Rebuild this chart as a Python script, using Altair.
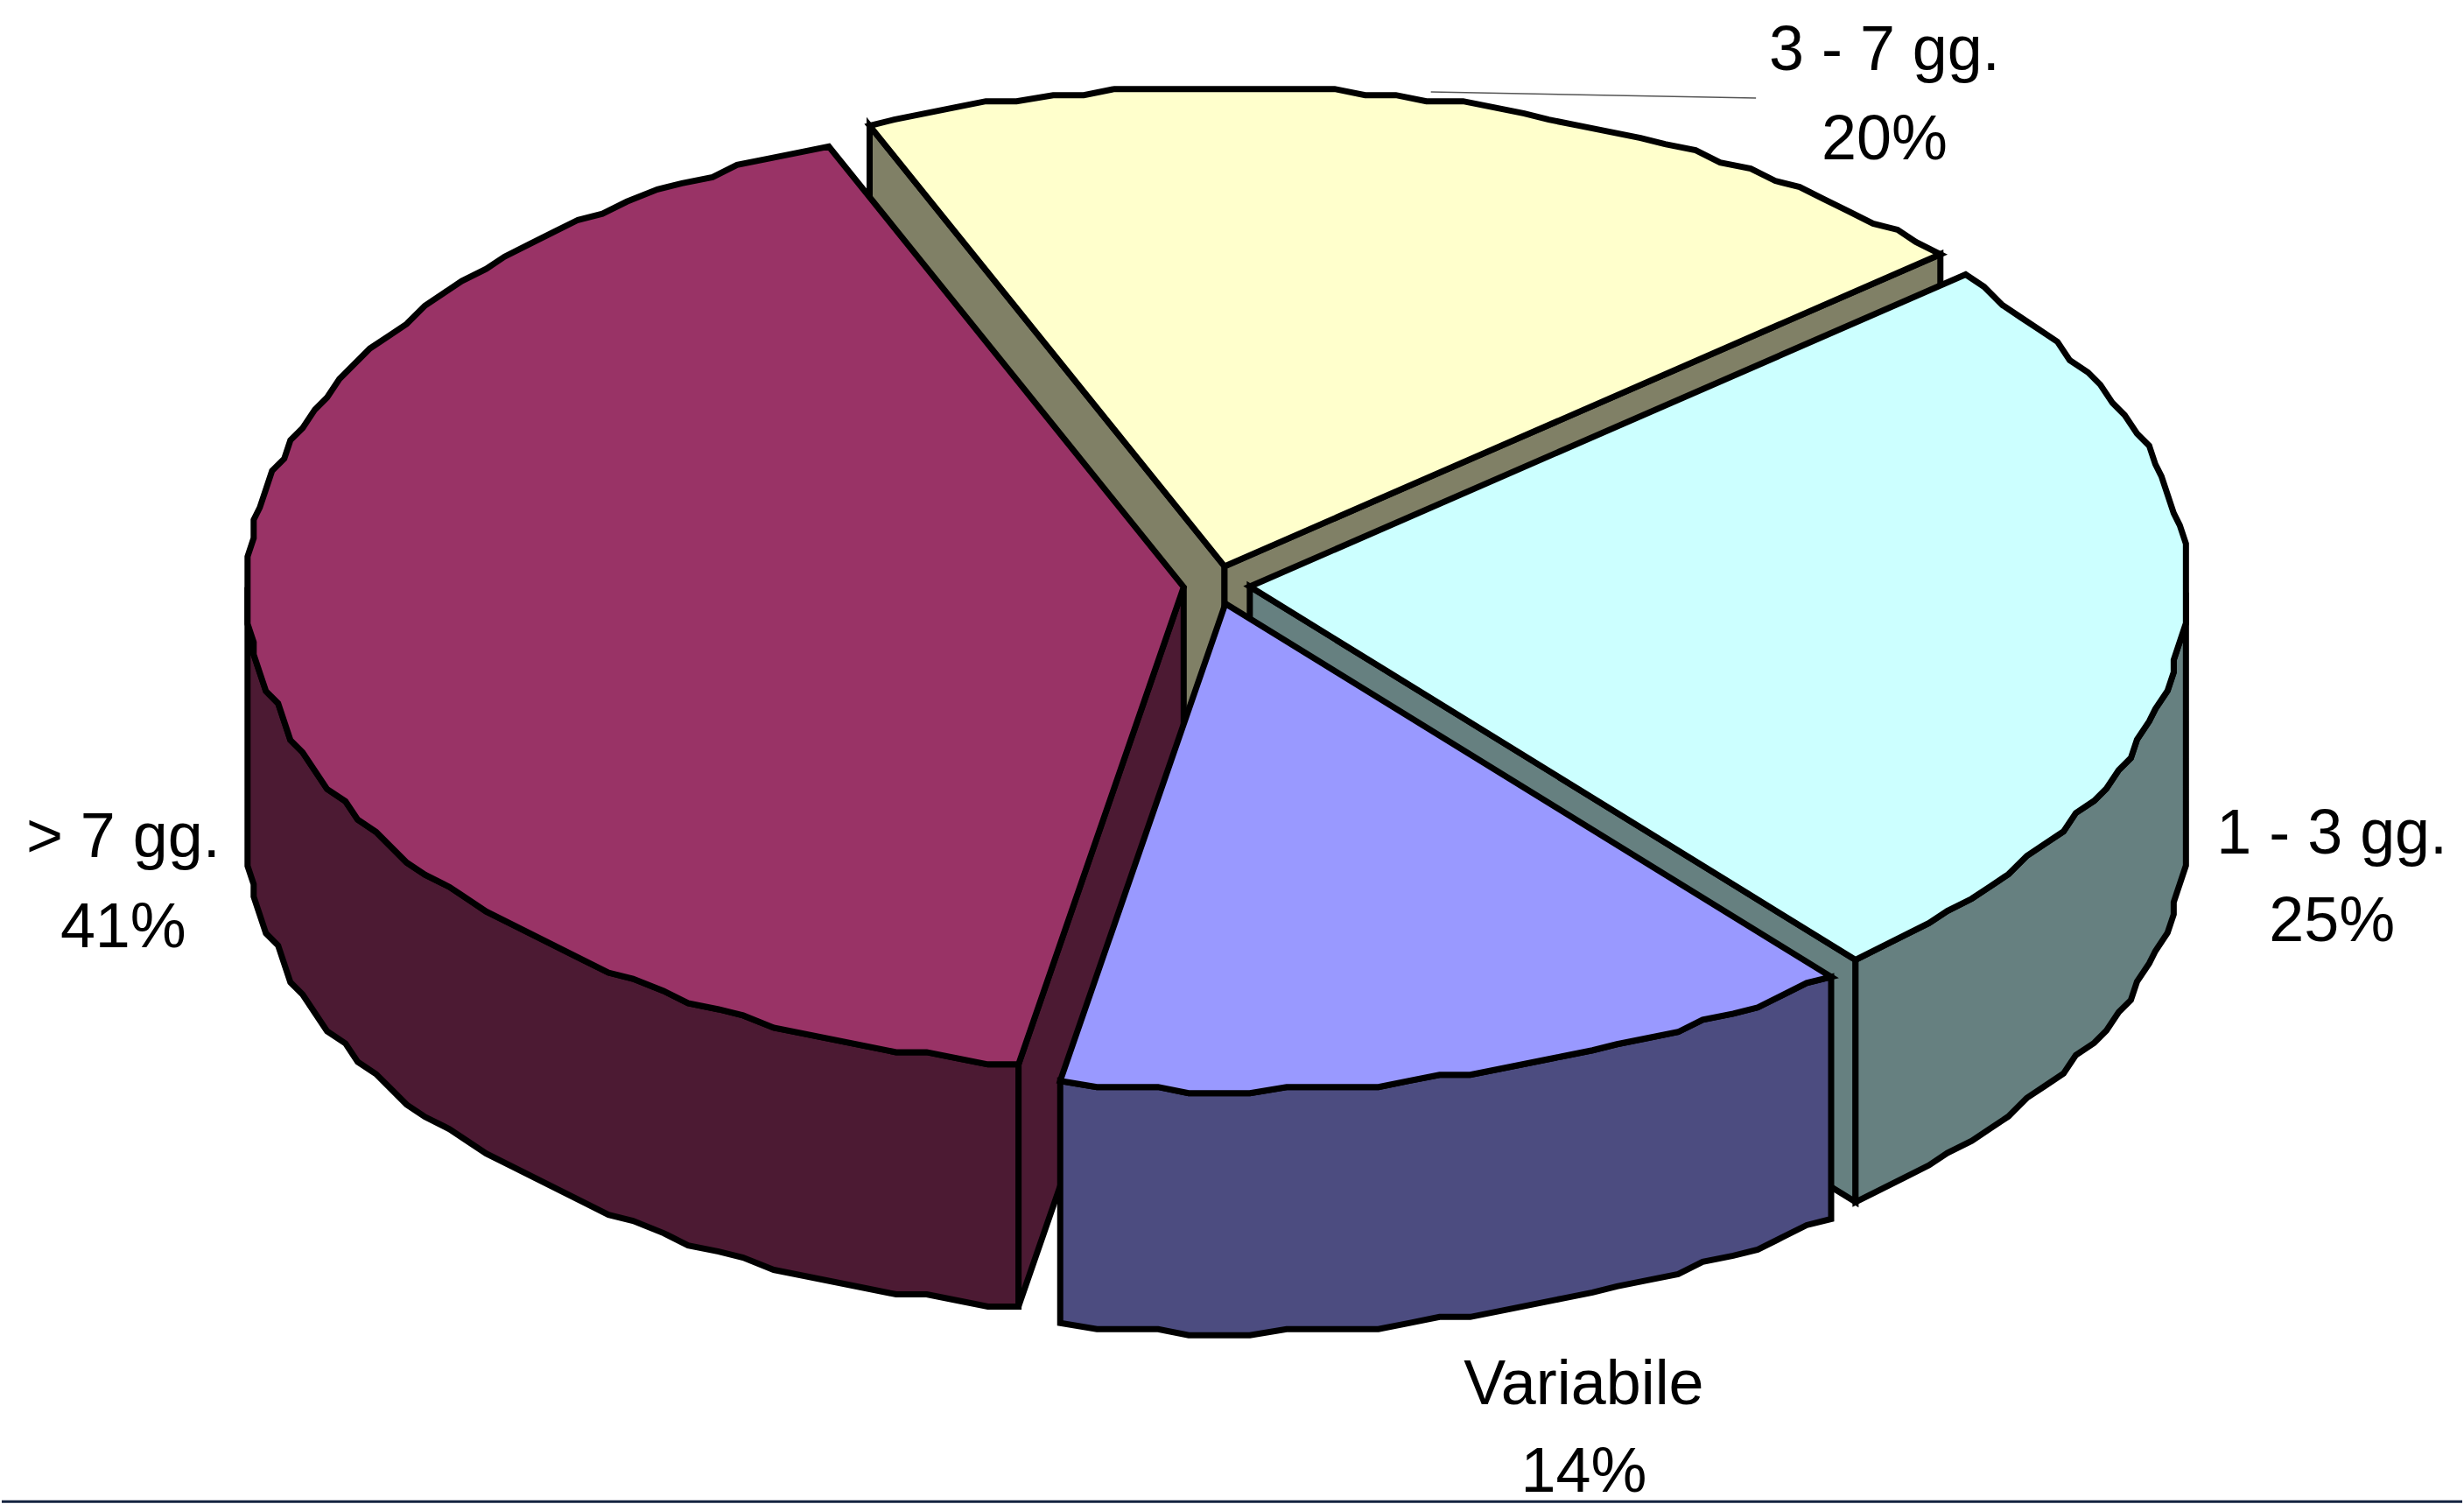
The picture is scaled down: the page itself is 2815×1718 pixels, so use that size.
import math
import altair as alt
import pandas as pd

# Slices in drawing order (back to front)
categories = ["3 - 7 gg.", "1 - 3 gg.", "> 7 gg.", "Variabile"]
shares = [20, 25, 41, 14]
top_colors = ["#FFFFCC", "#CCFFFF", "#993366", "#9999FF"]
side_colors = ["#808066", "#668080", "#4C1A33", "#4C4C80"]

# The clockwise order around the pie differs from the painter's order
clockwise = ["3 - 7 gg.", "1 - 3 gg.", "Variabile", "> 7 gg."]

WIDTH, HEIGHT = 2815, 1718
CX, CY = 1390, 668        # pie centre on the top surface
RX = 1072                 # horizontal radius
RY_FAR, RY_NEAR = 547, 557  # the near half of the ellipse is slightly deeper
DEPTH = 277               # extrusion of the disc
EXPLODE_X, EXPLODE_Y = 38, 22
START_ANGLE = -22.4       # clockwise from twelve o'clock
ARC_STEP = 2.0            # degrees between outline vertices
GRID_X, GRID_Y = 7.0, 7.0 # coarse device grid that gives the outline its stepped look


def snap(value, grid):
    return round(value / grid) * grid


def slice_geometry(name):
    angle = START_ANGLE
    for other in clockwise:
        span = shares[categories.index(other)] * 3.6
        if other == name:
            break
        angle += span
    mid = math.radians(angle + span / 2)
    ax = CX + EXPLODE_X * math.sin(mid)
    ay = CY - EXPLODE_Y * math.cos(mid)
    count = max(2, int(span / ARC_STEP) + 1)
    rim = []
    for i in range(count + 1):
        t = math.radians(angle + span * i / count)
        ry = RY_FAR if math.cos(t) > 0 else RY_NEAR
        rim.append(
            (
                t,
                ax + snap(RX * math.sin(t), GRID_X),
                ay - snap(ry * math.cos(t), GRID_Y),
            )
        )
    return (ax, ay), rim


def polygon(points, fill):
    ring = [[float(x), float(y)] for x, y in points]
    ring.append(ring[0])
    return {
        "type": "Feature",
        "geometry": {"type": "Polygon", "coordinates": [ring]},
        "properties": {"fill": fill},
    }


def drop(points):
    return [(x, y + DEPTH) for x, y in reversed(points)]


features = []
for name, top, side in zip(categories, top_colors, side_colors):
    (ax, ay), rim = slice_geometry(name)
    first = (rim[0][1], rim[0][2])
    last = (rim[-1][1], rim[-1][2])

    # Flat cut faces: a face shows when its outward side points down the screen
    if first[0] < ax:
        features.append(polygon([(ax, ay), first] + drop([(ax, ay), first]), side))
    if last[0] > ax:
        features.append(polygon([(ax, ay), last] + drop([(ax, ay), last]), side))

    # Outer wall: the part of the rim on the near half of the ellipse
    near = [(x, y) for t, x, y in rim if math.cos(t) <= 0.02]
    if len(near) > 1:
        features.append(polygon(near + drop(near), side))

    # Top surface
    features.append(polygon([(ax, ay)] + [(x, y) for _, x, y in rim], top))

pie = (
    alt.Chart(
        alt.InlineData(
            values={"type": "FeatureCollection", "features": features},
            format=alt.DataFormat(property="features", type="json"),
        )
    )
    .mark_geoshape(stroke="#000000", strokeWidth=7, strokeMiterLimit=4)
    .encode(fill=alt.Fill("properties.fill:N", scale=None, legend=None))
    .project(type="identity", scale=1, translate=[0, 0])
)

# Two-line data labels, centred beside their slices
label_anchor = {
    "3 - 7 gg.": (2154, 79, 181),
    "1 - 3 gg.": (2666, 975, 1075),
    "> 7 gg.": (139, 979, 1082),
    "Variabile": (1810, 1605, 1705),
}
label_rows = []
for name, share in zip(categories, shares):
    px, y_name, y_share = label_anchor[name]
    label_rows.append({"px": px, "py": y_name, "text": name})
    label_rows.append({"px": px, "py": y_share, "text": f"{share}%"})

labels = (
    alt.Chart(pd.DataFrame(label_rows))
    .mark_text(font="Liberation Sans", fontSize=72, color="#000000", baseline="alphabetic", align="center")
    .encode(
        x=alt.X("px:Q", scale=None, axis=None),
        y=alt.Y("py:Q", scale=None, axis=None),
        text="text:N",
    )
)

leader = alt.Chart(pd.DataFrame({"v": [0]})).mark_rule(color="#555555", strokeWidth=1.5).encode(
    x=alt.value(1635), x2=alt.value(2007), y=alt.value(104), y2=alt.value(111)
)

footer = alt.Chart(pd.DataFrame({"v": [0]})).mark_rule(color="#14233F", strokeWidth=3).encode(
    x=alt.value(0), x2=alt.value(WIDTH), y=alt.value(1716.5), y2=alt.value(1716.5)
)

chart = (
    alt.layer(pie, leader, labels, footer)
    .properties(width=WIDTH, height=HEIGHT, padding=0, background="#FFFFFF")
    .configure_view(stroke=None)
)

chart.save("out.html", embed_options={"renderer": "svg", "actions": False})
